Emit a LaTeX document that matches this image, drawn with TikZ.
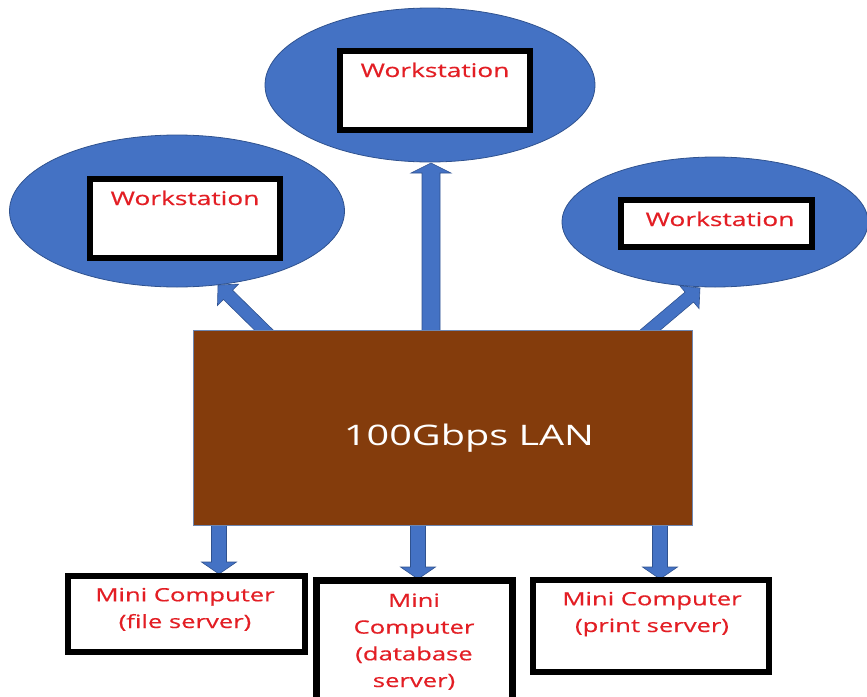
\documentclass[tikz,border=0pt]{standalone}
\usepackage{fontspec}
\setmainfont[FakeStretch=1.4]{Open Sans}
\newfontfamily\labelfont[FakeStretch=1.4,FakeBold=0.5]{Open Sans}
\usetikzlibrary{shapes.geometric,calc,backgrounds}

\definecolor{netblue}{HTML}{4472C4}
\definecolor{netedge}{HTML}{2F528F}
\definecolor{lanbrown}{HTML}{843C0C}
\definecolor{labelred}{HTML}{E31E24}

\tikzset{
  wsbubble/.style={ellipse, fill=netblue, draw=netedge, line width=0.8pt, inner sep=0pt},
  wsbox/.style={rectangle, fill=white, draw=black, line width=6pt, inner sep=0pt},
  wslabel/.style={anchor=base, text=labelred, font=\labelfont\fontsize{18.8}{23}\selectfont, inner sep=0pt},
  lanbox/.style={rectangle, fill=lanbrown, draw=netedge!70, line width=0.8pt, inner sep=0pt},
  lanlabel/.style={anchor=base, text=white, font=\fontsize{28.3}{34}\selectfont, inner sep=0pt},
  minibox/.style={rectangle, fill=white, draw=black, line width=6pt, inner sep=0pt},
  minilabel/.style={anchor=base, text=labelred, align=center,
    font=\labelfont\fontsize{18.3}{26.7}\selectfont, inner sep=0pt},
  fatarrow/.style={fill=netblue, draw=netedge, line width=0.6pt, line join=miter}
}

% block arrow: tail, tip, shaft half-width, head half-width, head length
\newcommand\blockarrow[5]{%
  \coordinate (nk) at ($(#2)!#5!(#1)$);
  \draw[fatarrow]
    ($(#1)!#3!90:(#2)$) -- ($(nk)!#3!90:(#2)$) -- ($(nk)!#4!90:(#2)$) --
    (#2) --
    ($(nk)!#4!-90:(#2)$) -- ($(nk)!#3!-90:(#2)$) -- ($(#1)!#3!-90:(#2)$) -- cycle;
}

\begin{document}
\begin{tikzpicture}[x=1pt, y=-1pt]
\useasboundingbox (0,0) rectangle (867,696);
\clip (0,0) rectangle (867,696);

% workstations
\node[wsbubble, minimum width=330pt, minimum height=154pt] (wsTop) at (430,85) {};
\node[wsbubble, minimum width=335pt, minimum height=152pt] (wsLeft) at (177,211) {};
\node[wsbubble, minimum width=306pt, minimum height=130pt] (wsRight) at (715,222) {};

\node[wsbox, minimum width=190pt, minimum height=79pt] (boxTop) at (435,90.5) {};
\node[wsbox, minimum width=190pt, minimum height=79pt] (boxLeft) at (185,218.5) {};
\node[wsbox, minimum width=191pt, minimum height=47pt] (boxRight) at (716.5,223.5) {};

\node[wslabel] (txtTop) at (435,77) {Workstation};
\node[wslabel] (txtLeft) at (185,205) {Workstation};
\node[wslabel] (txtRight) at (720,226) {Workstation};

% the LAN
\node[lanbox, minimum width=499pt, minimum height=195pt] (lan) at (442.5,427.5) {};
\node[lanlabel] (lanText) at (469,445) {100Gbps LAN};

% mini computers
\node[minibox, minimum width=237pt, minimum height=76pt] (mcFile) at (186.5,614) {};
\node[minibox, line width=7pt, minimum width=196pt, minimum height=124pt] (mcDb) at (414,642) {};
\node[minibox, minimum width=236pt, minimum height=92pt] (mcPrint) at (651,626) {};

% multi-line labels sit on the baseline of their last line
\node[minilabel] (txtFile) at (185,628) {Mini Computer\\(file server)};
\node[minilabel] (txtDb) at (414,687) {Mini\\Computer\\(database\\server)};
\node[minilabel] (txtPrint) at (652,632) {Mini Computer\\(print server)};

% connector end points
\coordinate (upTail) at (431,340);
\coordinate (upTip) at (431,163);
\coordinate (ulTail) at (272,338);
\coordinate (ulTip) at (218,285);
\coordinate (urTail) at (642,337);
\coordinate (urTip) at (700,288);
\coordinate (dlTail) at (219,518);
\coordinate (dlTip) at (219,574);
\coordinate (dmTail) at (418,518);
\coordinate (dmTip) at (418,579);
\coordinate (drTail) at (660,518);
\coordinate (drTip) at (660,579);

\begin{scope}[on background layer]
  \blockarrow{upTail}{upTip}{9pt}{20pt}{10pt}
  \blockarrow{ulTail}{ulTip}{6.5pt}{15pt}{14pt}
  \blockarrow{urTail}{urTip}{6.5pt}{15pt}{14pt}
  \blockarrow{dlTail}{dlTip}{7.5pt}{17.5pt}{12pt}
  \blockarrow{dmTail}{dmTip}{7.5pt}{17.5pt}{12pt}
  \blockarrow{drTail}{drTip}{7.5pt}{17.5pt}{12pt}
\end{scope}
\end{tikzpicture}
\end{document}
